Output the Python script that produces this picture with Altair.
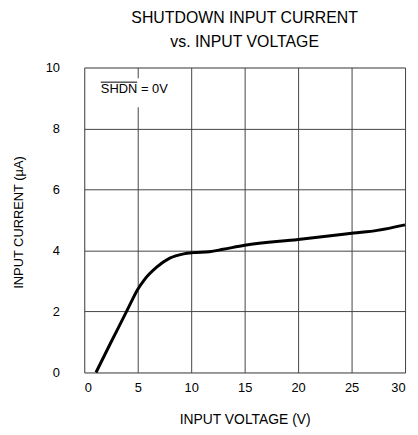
import altair as alt
import pandas as pd

# Curve
voltage = [1.1, 2.5, 3.9, 4.35, 4.94, 5.6, 6.8, 8.0, 9.3, 10.2, 11.7, 13.0, 15.0, 20.0, 25.2, 27.4, 30.0]
current = [0.0, 0.99, 1.96, 2.28, 2.69, 3.03, 3.46, 3.75, 3.89, 3.93, 3.96, 4.04, 4.17, 4.36, 4.57, 4.66, 4.84]

x_ticks = [0, 5, 10, 15, 20, 25, 30]
y_ticks = [0, 2, 4, 6, 8, 10]

# annotation
ann_word = ["SHDN"]
ann_text = ["= 0V"]

FONT = "Liberation Sans, Arial, sans-serif"

df = pd.DataFrame({"v": voltage, "i": current})

xs = alt.Scale(domain=[0, 30], nice=False)
ys = alt.Scale(domain=[0, 10], nice=False)

base_x = alt.X("v:Q", scale=xs, axis=alt.Axis(
    values=x_ticks, title="INPUT VOLTAGE (V)", grid=True, domain=False, ticks=False,
    labelPadding=9, labelFontSize=13, labelFont=FONT, labelColor="black",
    titleFont=FONT, titleFontSize=14, titleFontWeight="normal", titleColor="black",
    titleY=48, titleBaseline="middle",
    gridColor="#444444", gridWidth=1, gridOpacity=1))
base_y = alt.Y("i:Q", scale=ys, axis=alt.Axis(
    values=y_ticks, title="INPUT CURRENT (µA)", grid=True, domain=False, ticks=False,
    labelPadding=25, labelFontSize=13, labelFont=FONT, labelColor="black",
    titleFont=FONT, titleFontSize=13, titleFontWeight="normal", titleColor="black",
    titleX=-66, titleY=156, titleAngle=-90, titleAlign="center", titleBaseline="middle",
    gridColor="#444444", gridWidth=1, gridOpacity=1))

line = alt.Chart(df).mark_line(color="black", strokeWidth=3, interpolate="monotone").encode(
    x=base_x, y=base_y)

bg_df = pd.DataFrame({"x1": [1.3], "x2": [8.8], "y1": [8.7], "y2": [9.65]})
bg = alt.Chart(bg_df).mark_rect(color="white").encode(
    x=alt.X("x1:Q", scale=xs), x2="x2", y=alt.Y("y1:Q", scale=ys), y2="y2")

word_df = pd.DataFrame({"x": [1.55], "y": [9.28], "t": ann_word})
word = alt.Chart(word_df).mark_text(align="left", baseline="middle", fontSize=13,
                                    font=FONT, color="black").encode(
    x=alt.X("x:Q", scale=xs), y=alt.Y("y:Q", scale=ys), text="t:N")

eq_df = pd.DataFrame({"x": [5.3], "y": [9.28], "t": ann_text})
eq = alt.Chart(eq_df).mark_text(align="left", baseline="middle", fontSize=13,
                                font=FONT, color="black").encode(
    x=alt.X("x:Q", scale=xs), y=alt.Y("y:Q", scale=ys), text="t:N")

ol_df = pd.DataFrame({"x1": [1.55], "x2": [4.95], "y": [9.52]})
overline = alt.Chart(ol_df).mark_rule(color="black", strokeWidth=1).encode(
    x=alt.X("x1:Q", scale=xs), x2="x2", y=alt.Y("y:Q", scale=ys))

chart = alt.layer(bg, word, eq, overline, line).properties(
    width=324, height=308,
    autosize=alt.AutoSizeParams(type="none"),
    padding={"left": 77, "top": 58, "right": 5, "bottom": 55},
    title=alt.TitleParams(text=["SHUTDOWN INPUT CURRENT", "vs. INPUT VOLTAGE"],
                          font=FONT, fontSize=16, fontWeight="normal", color="black",
                          anchor="middle", offset=12, lineHeight=24),
).configure_view(stroke="black", strokeWidth=3).configure(background="white")

chart.save("out.html", embed_options={"renderer": "svg", "actions": False})
